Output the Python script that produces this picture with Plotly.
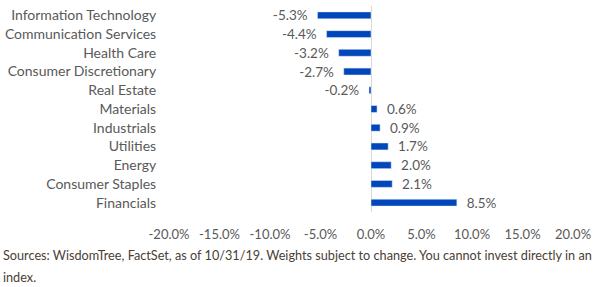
import plotly.graph_objects as go

categories = ["Information Technology", "Communication Services", "Health Care",
              "Consumer Discretionary", "Real Estate", "Materials", "Industrials",
              "Utilities", "Energy", "Consumer Staples", "Financials"]
values = [-5.3, -4.4, -3.2, -2.7, -0.2, 0.6, 0.9, 1.7, 2.0, 2.1, 8.5]
tick_vals = [-20, -15, -10, -5, 0, 5, 10, 15, 20]
tick_text = [f"{v:.1f}%" for v in tick_vals]
footnote_lines = ["Sources: WisdomTree, FactSet, as of 10/31/19. Weights subject to change. "
                  "You cannot invest directly in an", "index."]

FONT = "Lato"
GRAY = "#595959"
PAD = "\u00a0\u00a0"

labels = [(f"{v:.1f}%" + PAD) if v < 0 else (PAD + f"{v:.1f}%") for v in values]

fig = go.Figure(go.Bar(
    y=categories, x=values, orientation="h",
    marker=dict(color="#0047BB"),
    text=labels, textposition="outside",
    textfont=dict(family=FONT, size=13.5, color=GRAY),
    constraintext="none",
    cliponaxis=False, width=0.37,
))

W, H = 605, 287
L, R, T, B = 169, 32, 6, 75
ph = H - T - B
pw = W - L - R
annos = []
for i, (line, yc) in enumerate(zip(footnote_lines, [255, 277])):
    annos.append(dict(text=line, xref="paper", yref="paper",
                      x=-(L - 1) / pw, y=1 - (yc - T) / ph,
                      xanchor="left", yanchor="middle", align="left", showarrow=False,
                      font=dict(family=FONT, size=12.7, color="#4a4035")))

fig.update_layout(
    width=W, height=H,
    margin=dict(l=L, r=R, t=T, b=B),
    paper_bgcolor="white", plot_bgcolor="white",
    showlegend=False,
    font=dict(family=FONT, size=13, color=GRAY),
    xaxis=dict(range=[-20, 20], tickvals=tick_vals, ticktext=tick_text,
               showgrid=False, zeroline=True, zerolinecolor="#d9d9d9", zerolinewidth=1,
               ticks="outside", ticklen=10, tickcolor="rgba(0,0,0,0)",
               tickfont=dict(family=FONT, size=13, color=GRAY)),
    yaxis=dict(categoryorder="array", categoryarray=categories, autorange="reversed",
               showgrid=False, ticks="outside", ticklen=9, tickcolor="rgba(0,0,0,0)",
               tickfont=dict(family=FONT, size=14, color=GRAY)),
    annotations=annos,
)
fig.write_html("out.html")
